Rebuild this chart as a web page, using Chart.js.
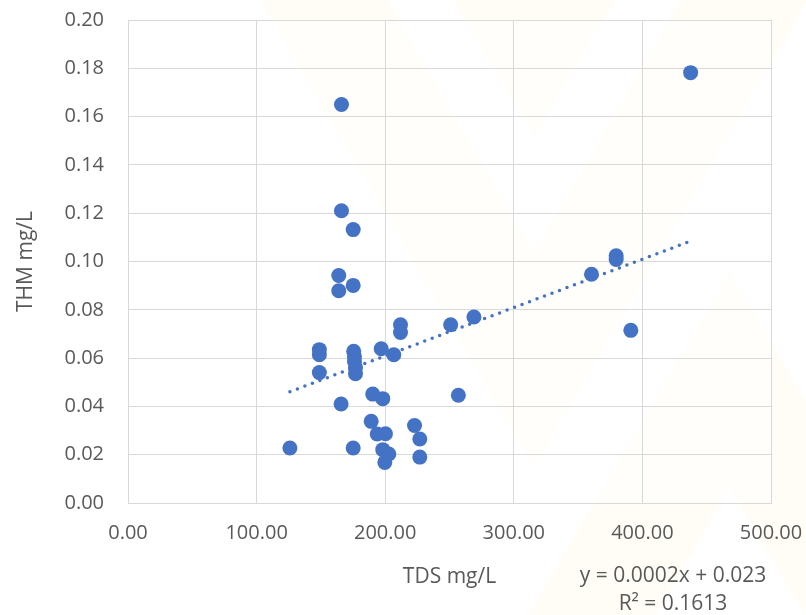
<!DOCTYPE html>
<html>
<head>
<meta charset="utf-8">
<script src="https://cdn.jsdelivr.net/npm/chart.js@4.4.1/dist/chart.umd.min.js"></script>
<style>
  html, body { margin: 0; padding: 0; background: #ffffff; }
  #wrap { width: 806px; height: 615px; position: relative; }
</style>
</head>
<body>
<div id="wrap"><canvas id="c" width="806" height="615"></canvas></div>
<script>
// ---- data ----
const tdsValues = [125.9, 175.1, 165.7, 190.3, 198.1, 189.1, 193.8, 200.2, 198.1, 202.8,
                   199.7, 222.8, 226.9, 226.9, 148.8, 148.8, 148.8, 175.5, 176.1, 176.1,
                   176.9, 176.9, 196.9, 206.7, 211.9, 211.9, 250.9, 269.0, 256.9, 163.9,
                   163.9, 175.1, 175.1, 166.0, 166.0, 360.4, 379.6, 379.6, 391.0, 437.5];
const thmValues = [0.0228, 0.0228, 0.0410, 0.0451, 0.0432, 0.0338, 0.0286, 0.0287, 0.0221, 0.0203,
                   0.0168, 0.0321, 0.0265, 0.0190, 0.0635, 0.0614, 0.0540, 0.0628, 0.0607, 0.0586,
                   0.0560, 0.0535, 0.0639, 0.0614, 0.0738, 0.0706, 0.0738, 0.0770, 0.0446, 0.0942,
                   0.0879, 0.0901, 0.1132, 0.1210, 0.1650, 0.0947, 0.1024, 0.1008, 0.0715, 0.1782];
const xTicks = [0, 100, 200, 300, 400, 500];
const yTicks = [0, 0.02, 0.04, 0.06, 0.08, 0.10, 0.12, 0.14, 0.16, 0.18, 0.20];
const xTitle = 'TDS mg/L';
const yTitle = 'THM mg/L';
const equationText = 'y = 0.0002x + 0.023';
const r2Text = 'R\u00B2 = 0.1613';

// ---- linear least-squares trendline over the data range ----
const n = tdsValues.length;
const mx = tdsValues.reduce((a, b) => a + b, 0) / n;
const my = thmValues.reduce((a, b) => a + b, 0) / n;
let sxy = 0, sxx = 0;
for (let i = 0; i < n; i++) { sxy += (tdsValues[i] - mx) * (thmValues[i] - my); sxx += (tdsValues[i] - mx) ** 2; }
const slope = sxy / sxx;
const intercept = my - slope * mx;
const xMin = Math.min(...tdsValues), xMax = Math.max(...tdsValues);
const trendPoints = [{x: xMin, y: intercept + slope * xMin}, {x: xMax, y: intercept + slope * xMax}];

const points = tdsValues.map((x, i) => ({x: x, y: thmValues[i]}));

const TEXT = '#595959';
const GRID = '#D9D9D9';
const BLUE = '#4472C4';
const FONT = '"Open Sans", "Liberation Sans", sans-serif';

// faint decorative watermark behind the chart (page decoration, not data)
const watermarkShapes = [
  [[453, 0], [615, 0], [534, 138]],
  [[260, 0], [387, 0], [534, 251], [681, 0], [808, 0], [534, 468]],
  [[730, 271], [820, 425], [820, 640], [730, 488], [604, 703], [477, 703]]
];

const watermarkPlugin = {
  id: 'watermark',
  beforeDraw(chart) {
    const ctx = chart.ctx;
    const a = chart.chartArea;
    ctx.save();
    ctx.fillStyle = 'rgba(255, 235, 140, 0.09)';
    watermarkShapes.forEach(poly => {
      ctx.beginPath();
      poly.forEach((p, i) => i ? ctx.lineTo(p[0], p[1]) : ctx.moveTo(p[0], p[1]));
      ctx.closePath();
      ctx.fill();
    });
    ctx.fillStyle = 'rgba(255, 255, 255, 0.45)';
    ctx.fillRect(a.left, a.top, a.right - a.left, a.bottom - a.top);
    ctx.restore();
  }
};

const equationPlugin = {
  id: 'equation',
  afterDraw(chart) {
    const ctx = chart.ctx;
    const area = chart.chartArea;
    ctx.save();
    ctx.font = '21px ' + FONT;
    ctx.fillStyle = TEXT;
    ctx.textAlign = 'center';
    ctx.textBaseline = 'middle';
    const cx = area.right - 98;
    ctx.fillText(equationText, cx, area.bottom + 73);
    ctx.fillText(r2Text, cx, area.bottom + 101);
    ctx.restore();
  }
};

new Chart(document.getElementById('c'), {
  type: 'scatter',
  data: {
    datasets: [
      {
        type: 'line',
        label: 'Linear (THM)',
        data: trendPoints,
        borderColor: BLUE,
        borderWidth: 3.5,
        borderDash: [0, 8],
        borderCapStyle: 'round',
        pointRadius: 0,
        fill: false,
        tension: 0,
        order: 0
      },
      {
        label: 'THM mg/L',
        data: points,
        backgroundColor: BLUE,
        borderColor: BLUE,
        borderWidth: 0,
        pointRadius: 7.5,
        pointHoverRadius: 7.5,
        order: 1
      }
    ]
  },
  options: {
    responsive: false,
    animation: false,
    events: [],
    layout: { padding: { top: 20, right: 35, left: 0, bottom: 0 } },
    plugins: { legend: { display: false }, tooltip: { enabled: false } },
    scales: {
      x: {
        type: 'linear',
        min: 0, max: 500,
        afterBuildTicks(scale) { scale.ticks = xTicks.map(v => ({value: v})); },
        afterFit(scale) {
          scale.height = 112;
          scale.paddingLeft = 0; scale.paddingRight = 0;
        },
        ticks: {
          color: TEXT,
          font: { family: FONT, size: 20 },
          padding: 18,
          maxRotation: 0,
          callback: v => Number(v).toFixed(2)
        },
        grid: { color: GRID, lineWidth: 1, drawTicks: false },
        border: { color: GRID, width: 1 },
        title: {
          display: true, text: xTitle, color: TEXT,
          font: { family: FONT, size: 21 },
          padding: { top: 0, bottom: 25 }
        }
      },
      y: {
        type: 'linear',
        min: 0, max: 0.2,
        afterBuildTicks(scale) { scale.ticks = yTicks.map(v => ({value: v})); },
        afterFit(scale) {
          scale.width = 128;
          scale.paddingTop = 0; scale.paddingBottom = 0;
        },
        ticks: {
          color: TEXT,
          font: { family: FONT, size: 20 },
          padding: 24,
          callback: v => Number(v).toFixed(2)
        },
        grid: { color: GRID, lineWidth: 1, drawTicks: false },
        border: { color: GRID, width: 1 },
        title: {
          display: true, text: yTitle, color: TEXT,
          font: { family: FONT, size: 21 },
          padding: { top: 13, bottom: 0 }
        }
      }
    }
  },
  plugins: [watermarkPlugin, equationPlugin]
});
</script>
</body>
</html>
